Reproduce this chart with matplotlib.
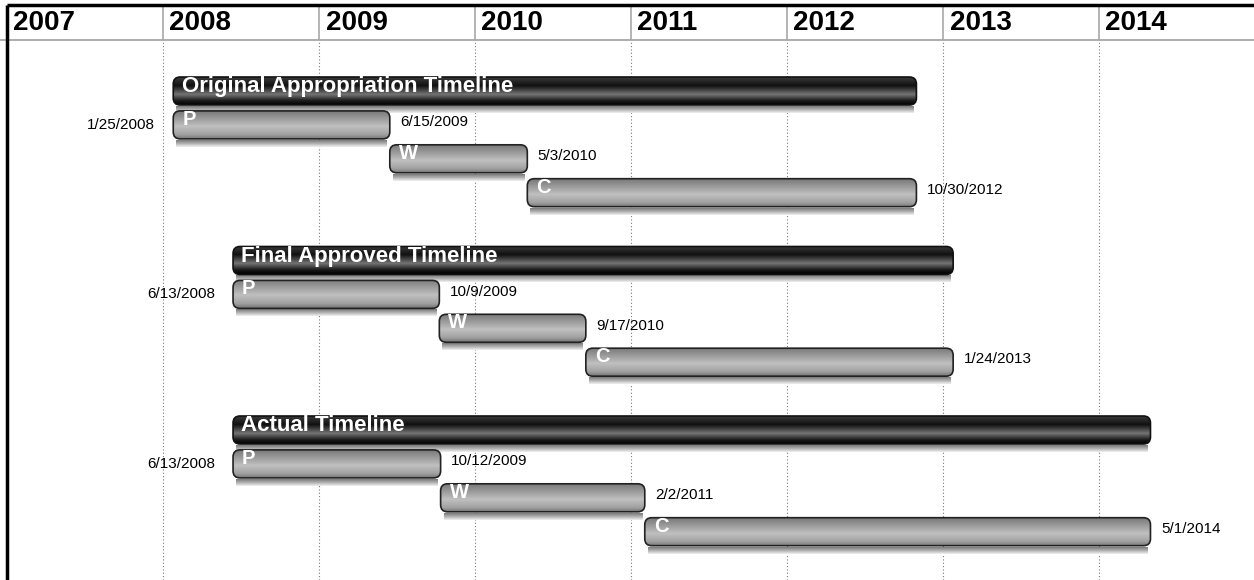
import datetime as dt
import numpy as np
import matplotlib
matplotlib.use('Agg')
import matplotlib.pyplot as plt
import matplotlib.dates as mdates
from matplotlib.patches import FancyBboxPatch
from matplotlib.colors import LinearSegmentedColormap

plt.rcParams['font.family'] = ['Liberation Sans', 'DejaVu Sans']

# ---- data ----
timelines = ['Original Appropriation Timeline', 'Final Approved Timeline', 'Actual Timeline']
phases = ['P', 'W', 'C']
start_dates = ['2008-01-25', '2008-06-13', '2008-06-13']
phase_ends = [
    ['2009-06-15', '2010-05-03', '2012-10-30'],
    ['2009-10-09', '2010-09-17', '2013-01-24'],
    ['2009-10-12', '2011-02-02', '2014-05-01'],
]
years = list(range(2007, 2015))

# ---- layout (pixels) ----
W, H = 1254, 580
px_day = 156 / 365.25
px_row = 33.9
bar_h = 28 / px_row


def d2n(s):
    return mdates.date2num(dt.datetime.strptime(s, '%Y-%m-%d'))


def date_label(s):
    d = dt.datetime.strptime(s, '%Y-%m-%d')
    return f'{d.month}/{d.day}/{d.year}'


dark_cmap = LinearSegmentedColormap.from_list('dark', [
    (0.0, '#3a3a3a'), (0.3, '#101010'), (0.62, '#747474'), (0.85, '#1c1c1c'), (1.0, '#000000')])
gray_cmap = LinearSegmentedColormap.from_list('gray', [
    (0.0, '#7a7a7a'), (0.2, '#939393'), (0.55, '#c0c0c0'), (0.85, '#a0a0a0'), (1.0, '#767676')])
shadow_cmap = LinearSegmentedColormap.from_list('shadow', ['#7a7a7a', '#b0b0b0', '#f2f2f2'])
grad = np.linspace(0, 1, 64).reshape(-1, 1)

fig = plt.figure(figsize=(W / 100, H / 100), dpi=100)
ax = fig.add_axes([0, 0, 1, 1])
ax.set_axis_off()

x2008 = mdates.date2num(dt.date(2008, 1, 1))
xmin = x2008 - 163 / px_day
xmax = xmin + W / px_day
ytop = -91 / px_row
ybot = ytop + H / px_row


def draw_bar(x0, x1, row, cmap, edge):
    y0 = row - bar_h / 2
    y1 = y0 + bar_h
    ax.imshow(grad, extent=(x0 + 3 / px_day, x1 - 3 / px_day, y1 + 8 / px_row, y1 + 1 / px_row),
              cmap=shadow_cmap, aspect='auto', interpolation='bilinear', zorder=1)
    patch = FancyBboxPatch((x0, y0), x1 - x0, bar_h,
                           boxstyle=f'round,pad=0,rounding_size={7 / px_day}',
                           mutation_aspect=px_day / px_row,
                           facecolor='none', edgecolor=edge, lw=1.2, zorder=3)
    ax.add_patch(patch)
    im = ax.imshow(grad, extent=(x0, x1, y1, y0), cmap=cmap, aspect='auto',
                   interpolation='bilinear', zorder=2)
    im.set_clip_path(patch)


# header + grid
xt = ax.get_xaxis_transform()
top_y = 1 - 5 / H
hb_y = 1 - 40 / H
ax.plot([xmin, xmax], [hb_y, hb_y], transform=xt, color='#a0a0a0', lw=1.2, zorder=0)
for yr in years:
    xj = d2n(f'{yr}-01-01')
    if yr == years[0]:
        ax.plot([xj, xj], [0, top_y], transform=xt, color='black', lw=2.5,
                solid_capstyle='butt', zorder=5)
        ax.plot([xj, xmax], [top_y, top_y], transform=xt, color='black', lw=2.5,
                solid_capstyle='butt', zorder=5)
    else:
        ax.plot([xj, xj], [hb_y, top_y], transform=xt, color='#a8a8a8', lw=1.2, zorder=0)
        ax.plot([xj, xj], [0, hb_y], transform=xt, color='#7a7a7a', lw=0.8,
                linestyle=(0, (1, 2)), zorder=0)
    ax.annotate(str(yr), xy=(xj, (top_y + hb_y) / 2), xycoords=xt, xytext=(4.5, 0),
                textcoords='offset points', fontsize=20, fontweight='bold',
                ha='left', va='center')

# timelines
for g, name in enumerate(timelines):
    base = g * 5
    s = d2n(start_dates[g])
    ends = [d2n(e) for e in phase_ends[g]]
    draw_bar(s, ends[-1], base, dark_cmap, '#111111')
    ax.annotate(name, xy=(s, base), xytext=(6, 3), textcoords='offset points',
                color='white', fontsize=16, fontweight='bold', ha='left', va='center', zorder=6)
    prev = s
    for i, (ph, e) in enumerate(zip(phases, ends)):
        row = base + 1 + i
        draw_bar(prev, e, row, gray_cmap, '#222222')
        ax.annotate(ph, xy=(prev, row), xytext=(6.5, 4), textcoords='offset points',
                    color='white', fontsize=14.5, fontweight='bold', ha='left', va='center', zorder=6)
        if i == 0:
            ax.annotate(date_label(start_dates[g]), xy=(prev, row), xytext=(-13, 0),
                        textcoords='offset points', fontsize=11, ha='right', va='center')
        ax.annotate(date_label(phase_ends[g][i]), xy=(e, row), xytext=(7.5, 2),
                    textcoords='offset points', fontsize=11, ha='left', va='center')
        prev = e

ax.set_xlim(xmin, xmax)
ax.set_ylim(ybot, ytop)

fig.savefig('out.png', dpi=100)
